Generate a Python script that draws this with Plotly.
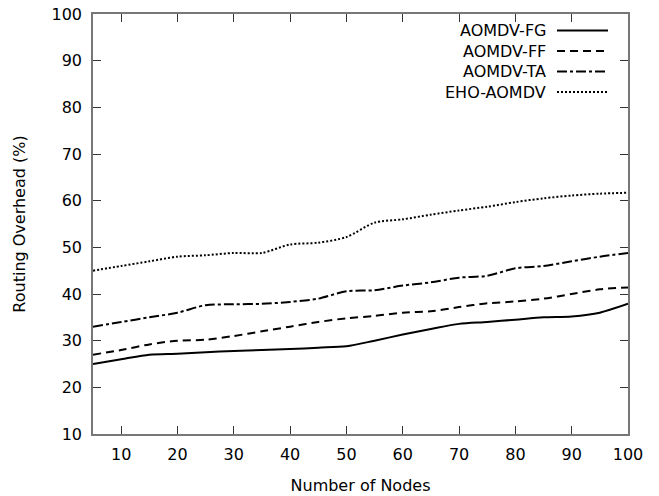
import plotly.graph_objects as go

nodes = [5, 10, 15, 20, 25, 30, 35, 40, 45, 50, 55, 60, 65, 70, 75, 80, 85, 90, 95, 100]
fg  = [25.0, 26.0, 27.0, 27.2, 27.5, 27.8, 28.0, 28.2, 28.5, 28.8, 30.0, 31.3, 32.5, 33.6, 34.0, 34.5, 35.0, 35.2, 36.0, 37.9]
ff  = [27.0, 28.0, 29.2, 30.0, 30.2, 31.0, 32.0, 33.0, 34.0, 34.8, 35.3, 36.0, 36.3, 37.2, 38.0, 38.4, 39.0, 40.0, 41.0, 41.4]
ta  = [33.0, 34.0, 35.0, 36.0, 37.6, 37.8, 37.9, 38.3, 39.0, 40.6, 40.8, 41.8, 42.5, 43.5, 43.9, 45.5, 46.0, 47.0, 48.0, 48.8]
eho = [45.0, 46.0, 47.0, 48.0, 48.3, 48.8, 48.8, 50.6, 51.0, 52.2, 55.3, 56.0, 57.0, 57.9, 58.7, 59.7, 60.5, 61.1, 61.5, 61.7]

series = [
    ("AOMDV-FG", fg, "solid"),
    ("AOMDV-FF", ff, "8px,5px"),
    ("AOMDV-TA", ta, "10px,3px,3px,3px"),
    ("EHO-AOMDV", eho, "2px,2px"),
]
x_ticks = [10, 20, 30, 40, 50, 60, 70, 80, 90, 100]
y_ticks = [10, 20, 30, 40, 50, 60, 70, 80, 90, 100]

FONT = "DejaVu Sans"
FS = 16
W, H = 659, 496
ML, MR, MT, MB = 93, 31, 14, 62
PW, PH = W - ML - MR, H - MT - MB

fig = go.Figure()
for name, vals, dash in series:
    fig.add_trace(go.Scatter(x=nodes, y=vals, mode="lines", name=name,
                             line=dict(color="black", width=2, dash=dash, shape="spline", smoothing=0.8),
                             showlegend=False))

# legend drawn gnuplot-style: text right-aligned, sample on the right
leg_y = [30.5, 51, 71.5, 92]
for (name, vals, dash), yy in zip(series, leg_y):
    yp = (H - MB - yy) / PH
    fig.add_annotation(x=(548 - ML) / PW, y=yp, xref="paper", yref="paper", text=name,
                       showarrow=False, xanchor="right", yanchor="middle",
                       font=dict(family=FONT, size=FS, color="black"))
    fig.add_shape(type="line", xref="paper", yref="paper",
                  x0=(557 - ML) / PW, x1=(608 - ML) / PW, y0=yp, y1=yp,
                  line=dict(color="black", width=2, dash=dash))

axis_common = dict(showgrid=False, zeroline=False, showline=True, mirror="ticks",
                   linecolor="#777777", linewidth=1.5, ticks="inside", ticklen=8,
                   tickcolor="#333333", tickwidth=1,
                   tickfont=dict(family=FONT, size=FS, color="black"))

fig.update_layout(
    width=W, height=H,
    margin=dict(l=ML, r=MR, t=MT, b=MB, autoexpand=False),
    plot_bgcolor="white", paper_bgcolor="white",
    xaxis=dict(range=[5, 100], tickvals=x_ticks, ticklabelstandoff=5,
               title=dict(text="Number of Nodes", font=dict(family=FONT, size=FS, color="black"), standoff=17),
               **axis_common),
    yaxis=dict(range=[10, 100], tickvals=y_ticks, ticklabelstandoff=6,
               title=dict(text="Routing Overhead (%)", font=dict(family=FONT, size=FS, color="black"), standoff=22),
               **axis_common),
)

fig.write_html("out.html")
